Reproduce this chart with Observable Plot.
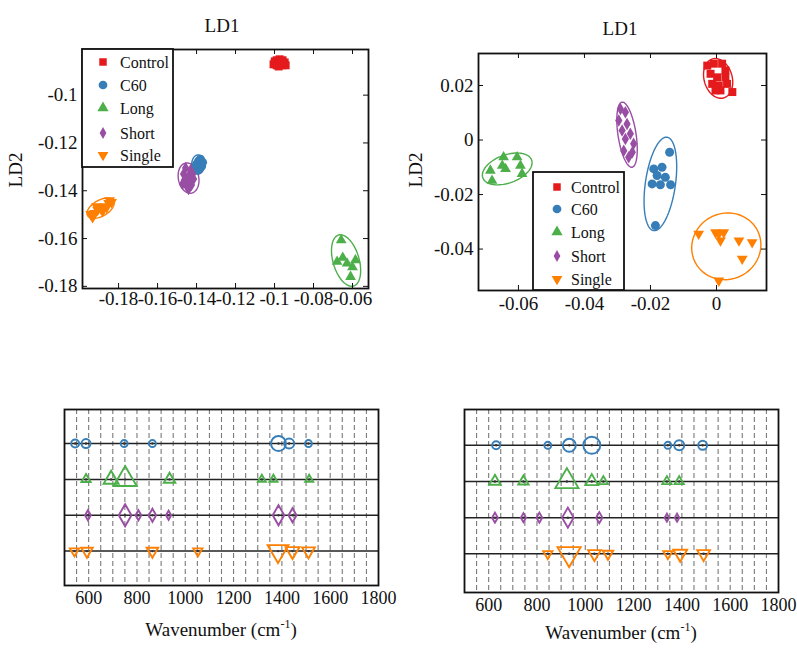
<!DOCTYPE html>
<html><head><meta charset="utf-8">
<script src="https://cdn.jsdelivr.net/npm/d3@7"></script>
<script src="https://cdn.jsdelivr.net/npm/@observablehq/plot@0.6"></script>
<style>
body{margin:0;background:#fff;}
#root{position:relative;width:797px;height:648px;overflow:hidden;background:#fff;font-family:"Liberation Serif","Times New Roman",Times,"DejaVu Serif",serif;}
#root svg, #root text{font-family:"Liberation Serif","Times New Roman",Times,"DejaVu Serif",serif !important;}
.panel{position:absolute;}
#overlay{position:absolute;left:0;top:0;pointer-events:none;}
</style></head><body><div id="root"></div>
<script>
// ---------- data ----------
const groups = ["Control", "C60", "Long", "Short", "Single"];
const colors = ["#e41a1c", "#377eb8", "#4daf4a", "#984ea3", "#ff7f00"];

// Panel A (top-left): LD1 vs LD2 scores
const aControlX = [-0.0999,-0.0989,-0.0974,-0.0959,-0.0948,-0.0943,-0.0959,-0.0974,-0.0989,-0.1005,-0.0979,-0.0964];
const aControlY = [-0.0859,-0.0854,-0.0850,-0.0854,-0.0863,-0.0875,-0.0875,-0.0871,-0.0875,-0.0871,-0.0880,-0.0863];
const aC60X = [-0.1380,-0.1369,-0.1390,-0.1374,-0.1400,-0.1385,-0.1395,-0.1405];
const aC60Y = [-0.1268,-0.1281,-0.1276,-0.1297,-0.1289,-0.1306,-0.1314,-0.1302];
const aLongX = [-0.0658,-0.0679,-0.0628,-0.0585,-0.0610,-0.0650,-0.0600];
const aLongY = [-0.1607,-0.1697,-0.1704,-0.1690,-0.1760,-0.1680,-0.1720];
const aShortX = [-0.1456,-0.1431,-0.1420,-0.1467,-0.1441,-0.1415,-0.1462,-0.1436,-0.1451,-0.1426,-0.1472,-0.1441];
const aShortY = [-0.1305,-0.1314,-0.1330,-0.1330,-0.1339,-0.1351,-0.1355,-0.1364,-0.1380,-0.1376,-0.1372,-0.1393];
const aSingleX = [-0.1943,-0.1923,-0.1907,-0.1892,-0.1871,-0.1851,-0.1836,-0.1933,-0.1882,-0.1861,-0.1913,-0.1846];
const aSingleY = [-0.1498,-0.1494,-0.1481,-0.1473,-0.1465,-0.1452,-0.1448,-0.1511,-0.1486,-0.1469,-0.1465,-0.1440];
// confidence ellipses: centre and two conjugate semi-axes (data units)
const aEllCx = [-0.0974,-0.1392,-0.0633,-0.1441,-0.1892];
const aEllCy = [-0.0867,-0.1290,-0.1692,-0.1347,-0.1473];
const aEllUx = [0.0025, 0, 0.00385, 0.00154, 0.00667];
const aEllUy = [0, 0.0040, -0.01067, -0.00628, 0.00314];
const aEllVx = [0, 0.0033, 0.00641, 0.00513, 0.00205];
const aEllVy = [0.0015, 0, 0.00155, 0.00084, -0.00289];
const aTicksX = [-0.18,-0.16,-0.14,-0.12,-0.1,-0.08,-0.06];
const aTicksY = [-0.18,-0.16,-0.14,-0.12,-0.1];

// Panel B (top-right)
const bControlX = [-0.0028,-0.0008,0.0017,0.0027,-0.0018,0.0002,0.0027,-0.0013,0.0007,0.0032,0.0012,0.0048,-0.0003];
const bControlY = [0.0273,0.0280,0.0280,0.0255,0.0243,0.0230,0.0230,0.0206,0.0200,0.0206,0.0182,0.0176,0.0182];
const bC60X = [-0.0142,-0.0165,-0.0190,-0.0180,-0.0155,-0.0195,-0.0170,-0.0139,-0.0185];
const bC60Y = [-0.0045,-0.0100,-0.0106,-0.0130,-0.0137,-0.0161,-0.0164,-0.0164,-0.0314];
const bLongX = [-0.0645,-0.0604,-0.0649,-0.0685,-0.0639,-0.0594,-0.0589,-0.0680];
const bLongY = [-0.0063,-0.0063,-0.0094,-0.0112,-0.0106,-0.0094,-0.0124,-0.0149];
const bShortX = [-0.0291,-0.0276,-0.0296,-0.0271,-0.0286,-0.0261,-0.0276,-0.0251,-0.0281,-0.0255,-0.0266];
const bShortY = [0.0114,0.0102,0.0072,0.0059,0.0035,0.0023,0.0004,-0.0014,-0.0039,-0.0045,-0.0063];
const bSingleX = [-0.0054,-0.0003,0.0007,0.0022,0.0012,0.0068,0.0108,0.0078,0.0007];
const bSingleY = [-0.0344,-0.0339,-0.0344,-0.0339,-0.0369,-0.0369,-0.0375,-0.0436,-0.0516];
const bEllCx = [0.0005,-0.0170,-0.0634,-0.0271,0.00297];
const bEllCy = [0.0226,-0.0161,-0.0106,0.00195,-0.0390];
const bEllUx = [0.00167,0.00203,0.00739,0.00152,0.0096];
const bEllUy = [-0.00716,0.01714,0.00327,-0.01193,0.00543];
const bEllVx = [0.0041,0.00451,0.00145,0.0027,0.00421];
const bEllVy = [0.0014,-0.00077,-0.00484,0.00051,-0.01097];
const bTicksX = [-0.06,-0.04,-0.02,0];
const bTicksY = [-0.04,-0.02,0,0.02];

// Panel C (bottom-left): selected wavenumbers and marker weight
const cC60Wave = [544, 589, 747, 864, 1386, 1430, 1510];
const cC60W = [8, 9, 7, 7, 15, 10, 7];
const cLongWave = [589, 693, 751, 935, 1317, 1365, 1513];
const cLongW = [8, 13, 20, 10, 7, 7, 7];
const cShortWave = [597, 751, 806, 864, 931, 1386, 1444];
const cShortW = [10, 22, 10, 13, 9, 20, 14];
const cSingleWave = [541, 593, 864, 1052, 1384, 1444, 1510];
const cSingleW = [8, 10, 10, 8, 18, 12, 11];

// Panel D (bottom-right)
const dC60Wave = [631, 845, 934, 1027, 1342, 1389, 1486];
const dC60W = [8, 7, 13, 17, 7, 10, 9];
const dLongWave = [626, 744, 924, 1027, 1075, 1338, 1389];
const dLongW = [10, 9, 20, 11, 8, 8, 8];
const dShortWave = [626, 744, 810, 928, 1058, 1338, 1380];
const dShortW = [10, 9, 10, 20, 11, 8, 8];
const dSingleWave = [845, 933, 1038, 1094, 1342, 1393, 1490];
const dSingleW = [8, 20, 11, 9, 8, 12, 11];

const waveTicks = [600, 800, 1000, 1200, 1400, 1600, 1800];
const waveGrid = [550,600,650,700,750,800,850,900,950,1000,1050,1100,1150,1200,1250,1300,1350,1400,1450,1500,1550,1600,1650,1700,1750];
const rowIndex = [4, 3, 2, 1]; // C60, Long, Short, Single

// ---------- drawing ----------
const FONT = "Liberation Serif, Times New Roman, Times, DejaVu Serif, serif";
const triDown = { draw(ctx, size) { const y = -Math.sqrt(size / (Math.sqrt(3) * 3)); ctx.moveTo(0, -y * 2); ctx.lineTo(-Math.sqrt(3) * y, y); ctx.lineTo(Math.sqrt(3) * y, y); ctx.closePath(); } };
const topSymbols = ["square", "circle", "triangle", "diamond", triDown];
const topR = [4.5, 4.5, 4, 3.8, 4];
const fmt = d => String(+d.toFixed(3));
const root = document.getElementById("root");

function place(el, left, top) {
  el.classList.add("panel");
  el.style.left = left + "px"; el.style.top = top + "px";
  root.appendChild(el);
}

function topPanel(o) {
  const fw = o.w - o.mL - o.mR, fh = o.h - o.mT - o.mB;
  const marks = [];
  for (let i = 0; i < 5; i++) {
    const pts = d3.range(0, 73).map(k => {
      const t = 2 * Math.PI * k / 72;
      return { x: o.ecx[i] + o.eux[i] * Math.cos(t) + o.evx[i] * Math.sin(t),
               y: o.ecy[i] + o.euy[i] * Math.cos(t) + o.evy[i] * Math.sin(t) };
    });
    marks.push(Plot.line(pts, { x: "x", y: "y", stroke: colors[i], strokeWidth: 1.4 }));
  }
  o.sets.forEach((s, i) => {
    const data = s[0].map((x, j) => ({ x, y: s[1][j] }));
    marks.push(Plot.dot(data, { x: "x", y: "y", symbol: topSymbols[i], fill: colors[i], r: topR[i] }));
  });
  marks.push(Plot.ruleX(o.xt, { x: d => d, insetTop: fh - 5, stroke: "#111", strokeWidth: 1 }));
  marks.push(Plot.ruleX(o.xt, { x: d => d, insetBottom: fh - 5, stroke: "#111", strokeWidth: 1 }));
  marks.push(Plot.ruleY(o.yt, { y: d => d, insetRight: fw - 5, stroke: "#111", strokeWidth: 1 }));
  marks.push(Plot.ruleY(o.yt, { y: d => d, insetLeft: fw - 5, stroke: "#111", strokeWidth: 1 }));
  marks.push(Plot.frame({ stroke: "#111", strokeWidth: 1.8 }));
  marks.push(Plot.axisX({ ticks: o.xt, tickFormat: fmt, tickSize: 0, tickPadding: o.padX, fontSize: 19, fontFamily: FONT, label: null }));
  marks.push(Plot.axisY({ ticks: o.yt, tickFormat: fmt, tickSize: 0, tickPadding: 5, fontSize: 19, fontFamily: FONT, label: null }));
  return Plot.plot({
    width: o.w, height: o.h,
    marginLeft: o.mL, marginRight: o.mR, marginTop: o.mT, marginBottom: o.mB,
    x: { domain: o.xd }, y: { domain: o.yd },
    style: { fontFamily: FONT, fontSize: "19px", color: "#111", background: "transparent", overflow: "visible" },
    marks
  });
}

function bottomPanel(o) {
  const syms = ["circle", "triangle", "diamond", triDown];
  const k = [2, 2.33, 3.3, 2.33];
  const marks = [
    Plot.ruleX(waveGrid, { x: d => d, stroke: "#7a7a7a", strokeWidth: 1.1, strokeDasharray: "5,3" }),
    Plot.ruleY(rowIndex, { y: d => d, stroke: "#222", strokeWidth: 1.5 })
  ];
  o.sets.forEach((s, i) => {
    const data = s[0].map((x, j) => ({ x, y: rowIndex[i], r: s[1][j] / k[i] }));
    marks.push(Plot.dot(data, { x: "x", y: "y", r: "r", symbol: syms[i], stroke: colors[i + 1], strokeWidth: 1.9, fill: "none" }));
    marks.push(Plot.dot(data, { x: "x", y: "y", r: 1.2, fill: "#333" }));
  });
  marks.push(Plot.frame({ stroke: "#111", strokeWidth: 1.8 }));
  marks.push(Plot.axisX({ ticks: waveTicks, tickFormat: d => String(d), tickSize: 0, tickPadding: 6, fontSize: 18, fontFamily: FONT, label: null }));
  return Plot.plot({
    width: o.w, height: o.h,
    marginLeft: o.mL, marginRight: o.mR, marginTop: o.mT, marginBottom: o.mB,
    x: { domain: [500, 1800] }, y: { domain: o.yd, axis: null },
    r: { type: "linear", domain: [0, 20], range: [0, 20] },
    style: { fontFamily: FONT, fontSize: "18px", color: "#111", background: "transparent", overflow: "visible" },
    marks
  });
}

place(topPanel({ w: 400, h: 320, mL: 82, mR: 32, mT: 49, mB: 32, padX: 3,
  xd: [-0.1985, -0.0518], yd: [-0.1809, -0.0809], xt: aTicksX, yt: aTicksY,
  sets: [[aControlX, aControlY], [aC60X, aC60Y], [aLongX, aLongY], [aShortX, aShortY], [aSingleX, aSingleY]],
  ecx: aEllCx, ecy: aEllCy, eux: aEllUx, euy: aEllUy, evx: aEllVx, evy: aEllVy }), 0, 0);

place(topPanel({ w: 397, h: 320, mL: 78, mR: 31, mT: 53, mB: 30, padX: 6,
  xd: [-0.0721, 0.01515], yd: [-0.0552, 0.03174], xt: bTicksX, yt: bTicksY,
  sets: [[bControlX, bControlY], [bC60X, bC60Y], [bLongX, bLongY], [bShortX, bShortY], [bSingleX, bSingleY]],
  ecx: bEllCx, ecy: bEllCy, eux: bEllUx, euy: bEllUy, evx: bEllVx, evy: bEllVy }), 400, 0);

place(bottomPanel({ w: 400, h: 225, mL: 64, mR: 22, mT: 19, mB: 30, yd: [0.04, 4.95],
  sets: [[cC60Wave, cC60W], [cLongWave, cLongW], [cShortWave, cShortW], [cSingleWave, cSingleW]] }), 0, 390);

place(bottomPanel({ w: 397, h: 225, mL: 64, mR: 19, mT: 19, mB: 23, yd: [-0.07, 4.99],
  sets: [[dC60Wave, dC60W], [dLongWave, dLongW], [dShortWave, dShortW], [dSingleWave, dSingleW]] }), 400, 390);

// ---------- titles, axis labels, legends ----------
const ov = d3.select(root).append("svg").attr("id", "overlay").attr("width", 797).attr("height", 648)
  .attr("font-family", FONT).attr("fill", "#111");
ov.append("text").attr("x", 222).attr("y", 32).attr("text-anchor", "middle").attr("font-size", 19).text("LD1");
ov.append("text").attr("x", 620).attr("y", 35).attr("text-anchor", "middle").attr("font-size", 19).text("LD1");
ov.append("text").attr("transform", "translate(22,170) rotate(-90)").attr("text-anchor", "middle").attr("font-size", 19).text("LD2");
ov.append("text").attr("transform", "translate(422,170) rotate(-90)").attr("text-anchor", "middle").attr("font-size", 19).text("LD2");
function waveLabel(x, y) {
  const t = ov.append("text").attr("x", x).attr("y", y).attr("text-anchor", "middle").attr("font-size", 19);
  t.append("tspan").text("Wavenumber (cm");
  t.append("tspan").attr("font-size", 12).attr("dy", -8).text("-1");
  t.append("tspan").attr("dy", 8).text(")");
}
waveLabel(221, 636);
waveLabel(621, 639);

const legTypes = [d3.symbolSquare, d3.symbolCircle, d3.symbolTriangle, d3.symbolDiamond, triDown];
const legSizes = [56, 60, 55, 40, 50];
function legend(x0, y0, w, h, mx, tx, rows) {
  ov.append("rect").attr("x", x0).attr("y", y0).attr("width", w).attr("height", h)
    .attr("fill", "#fff").attr("stroke", "#111").attr("stroke-width", 1.8);
  groups.forEach((g, i) => {
    ov.append("path").attr("d", d3.symbol().type(legTypes[i]).size(legSizes[i])())
      .attr("transform", `translate(${mx},${rows[i]})`).attr("fill", colors[i]);
    ov.append("text").attr("x", tx).attr("y", rows[i] + 5.5).attr("font-size", 16).text(g);
  });
}
legend(82, 49, 91, 118, 103, 120, [62, 85, 108, 133, 155]);
legend(533, 172, 91, 118, 557, 571, [187, 209, 232, 256, 279]);
</script></body></html>
